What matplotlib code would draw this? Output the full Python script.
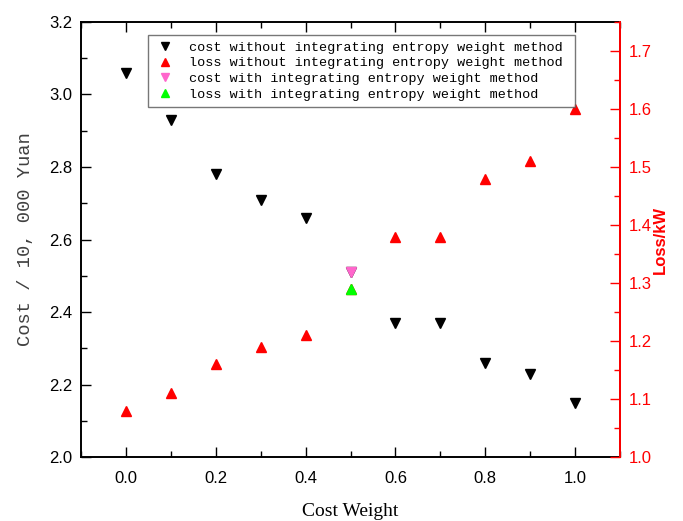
import matplotlib
matplotlib.use("Agg")
import matplotlib.pyplot as plt
from matplotlib.ticker import MultipleLocator

# data
cost_weight = [0.0, 0.1, 0.2, 0.3, 0.4, 0.5, 0.6, 0.7, 0.8, 0.9, 1.0]
cost_plain = [3.06, 2.93, 2.78, 2.71, 2.66, 2.51, 2.37, 2.37, 2.26, 2.23, 2.15]
loss_plain = [1.08, 1.11, 1.16, 1.19, 1.21, 1.29, 1.38, 1.38, 1.48, 1.51, 1.60]
entropy_weight = [0.5]
cost_entropy = [2.51]
loss_entropy = [1.29]

labels = [
    "cost without integrating entropy weight method",
    "loss without integrating entropy weight method",
    "cost with integrating entropy weight method",
    "loss with integrating entropy weight method",
]

sans = "Liberation Sans"
mono = "Liberation Mono"
serif = "Liberation Serif"

fig = plt.figure(figsize=(6.83, 5.21), dpi=100)
ax = fig.add_axes([0.1186, 0.1228, 0.7892, 0.835])
ax2 = ax.twinx()

ms = 7.5
h1, = ax.plot(cost_weight, cost_plain, "v", color="black", ms=ms, linestyle="none")
h3, = ax.plot(entropy_weight, cost_entropy, "v", color="#FF66CC", ms=ms, linestyle="none")
h2, = ax2.plot(cost_weight, loss_plain, "^", color="red", ms=ms, linestyle="none")
h4, = ax2.plot(entropy_weight, loss_entropy, "^", color="#00FF00", ms=ms, linestyle="none")

ax.set_xlim(-0.1, 1.1)
ax.set_ylim(2.0, 3.2)
ax2.set_ylim(1.0, 1.75)

ax.xaxis.set_major_locator(MultipleLocator(0.2))
ax.xaxis.set_minor_locator(MultipleLocator(0.1))
ax.yaxis.set_major_locator(MultipleLocator(0.2))
ax.yaxis.set_minor_locator(MultipleLocator(0.1))
ax2.yaxis.set_major_locator(MultipleLocator(0.1))
ax2.yaxis.set_minor_locator(MultipleLocator(0.05))

ax.tick_params(which="both", direction="in", top=True, right=False, width=1.0)
ax.tick_params(which="major", length=7, labelsize=12)
ax.tick_params(which="minor", length=4)
ax.tick_params(axis="x", which="major", pad=10)
ax.tick_params(axis="y", which="major", pad=6)
ax2.tick_params(which="both", direction="in", colors="red", width=1.0)
ax2.tick_params(which="major", length=7, labelsize=12, pad=6)
ax2.tick_params(which="minor", length=4)

for a in (ax, ax2):
    for lab in a.get_xticklabels() + a.get_yticklabels():
        lab.set_fontfamily(sans)
    for s in a.spines.values():
        s.set_linewidth(1.4)
ax2.spines["right"].set_color("red")
ax2.spines["left"].set_visible(False)
ax2.spines["top"].set_visible(False)
ax2.spines["bottom"].set_visible(False)

ax.set_xlabel("Cost Weight", fontfamily=serif, fontsize=14, labelpad=12)
ax.set_ylabel("Cost / 10, 000 Yuan", fontfamily=mono, fontsize=13.5, color="#404040", labelpad=11)
ax2.set_ylabel("Loss/kW", fontfamily=sans, fontsize=12, fontweight="bold", color="red", labelpad=1)

leg = ax2.legend([h1, h2, h3, h4], labels, loc="upper left", mode="expand",
                 bbox_to_anchor=(0.124, 0.0, 0.7925, 0.97), borderaxespad=0,
                 prop={"family": mono, "size": 9.7}, frameon=True,
                 fancybox=False, handlelength=1.6, handletextpad=1.0,
                 labelspacing=0.25, borderpad=0.45, markerscale=0.85)
leg.get_frame().set_edgecolor("#555555")
leg.get_frame().set_linewidth(1.0)

fig.savefig("out.png", dpi=100)
